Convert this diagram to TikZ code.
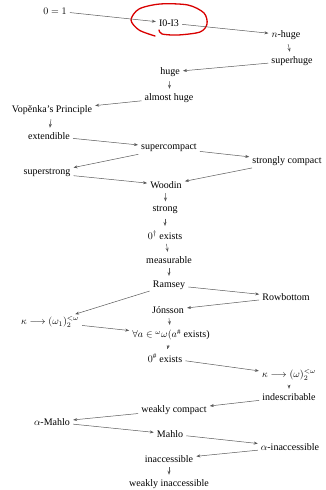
\documentclass[tikz,border=0pt]{standalone}
\usepackage{fontspec}
\setmainfont{Liberation Serif}
\usetikzlibrary{arrows.meta}

\tikzset{
  card/.style={inner sep=2pt, font=\fontsize{10}{12}\selectfont},
  imp/.style={-{Stealth[length=4pt,width=3pt]}, draw=black!65, line width=0.5pt, shorten >=1pt, shorten <=1pt},
  down/.style={imp, shorten >=2.5pt, shorten <=2.5pt}
}

\begin{document}
\begin{tikzpicture}[x=1pt,y=-1pt]
    \useasboundingbox (0,0) rectangle (326,490);

    % top of the chart
    \node[card] (zero) at (55,11) {$0=1$};
    \node[card] (ioi) at (169,23) {I0-I3};
    \node[card] (nhuge) at (286,35) {$n$-huge};
    \node[card] (shuge) at (292,61) {superhuge};
    \node[card] (huge) at (170,72) {huge};
    \node[card] (ahuge) at (169,98) {almost huge};
    \node[card] (vp) at (52,110) {Vopěnka’s Principle};
    \node[card] (ext) at (49,136) {extendible};

    % mark on I0-I3
    \draw[red!85!black, line width=1.3pt, line cap=round]
      plot[smooth] coordinates {(155,36) (139,30) (131,20) (139,9) (160,4) (188,5) (204,13) (207,24) (200,32) (178,35) (162,34) (159,30)};

    % compactness
    \node[card] (scpt) at (169,148) {supercompact};
    \node[card] (stcpt) at (287,161) {strongly compact};
    \node[card] (sstr) at (47,173) {superstrong};
    \node[card] (wood) at (166,185) {Woodin};
    \node[card] (strong) at (165,210) {strong};
    \node[card] (dagger) at (165,235) {$0^{\dagger}$ exists};
    \node[card] (meas) at (169,260) {measurable};
    \node[card] (ram) at (169,285) {Ramsey};
    \node[card] (row) at (286,297) {Rowbottom};
    \node[card] (jon) at (168,310) {Jónsson};
    \node[card] (erd) at (50,322) {$\kappa\longrightarrow(\omega_1)_2^{<\omega}$};
    \node[card] (sharps) at (171,335) {$\forall a\in{}^{\omega}\omega(a^{\#}$ exists)};
    \node[card] (sharp) at (165,358) {$0^{\#}$ exists};

    % small cardinals
    \node[card] (part) at (289,375) {$\kappa\longrightarrow(\omega)_2^{<\omega}$};
    \node[card] (indes) at (289,397) {indescribable};
    \node[card] (wcpt) at (174,410) {weakly compact};
    \node[card] (amah) at (52,422) {$\alpha$-Mahlo};
    \node[card] (mah) at (170,434) {Mahlo};
    \node[card] (ainac) at (290,447) {$\alpha$-inaccessible};
    \node[card] (inac) at (169,459) {inaccessible};
    \node[card] (winac) at (169,484) {weakly inaccessible};

    % implications
    \draw[imp] (zero) -- (ioi);
    \draw[imp] (ioi) -- (nhuge);
    \draw[down] (nhuge) -- (shuge);
    \draw[imp] (shuge) -- (huge);
    \draw[down] (huge) -- (ahuge);
    \draw[imp] (ahuge) -- (vp);
    \draw[down] (vp) -- (ext);
    \draw[imp] (ext) -- (scpt);
    \draw[imp] (scpt) -- (stcpt);
    \draw[imp] (scpt) -- (sstr);
    \draw[imp] (sstr) -- (wood);
    \draw[imp] (stcpt) -- (wood);
    \draw[down] (wood) -- (strong);
    \draw[down] (strong) -- (dagger);
    \draw[down] (dagger) -- (meas);
    \draw[down] (meas) -- (ram);
    \draw[imp] (ram) -- (row);
    \draw[imp] (row) -- (jon);
    \draw[imp] (ram) -- (erd);
    \draw[imp] (erd) -- (sharps);
    \draw[down] (jon) -- (sharps);
    \draw[down] (sharps) -- (sharp);
    \draw[imp] (sharp) -- (part);
    \draw[down] (part) -- (indes);
    \draw[imp] (indes) -- (wcpt);
    \draw[imp] (wcpt) -- (amah);
    \draw[imp] (amah) -- (mah);
    \draw[imp] (mah) -- (ainac);
    \draw[imp] (ainac) -- (inac);
    \draw[down] (inac) -- (winac);
\end{tikzpicture}
\end{document}
